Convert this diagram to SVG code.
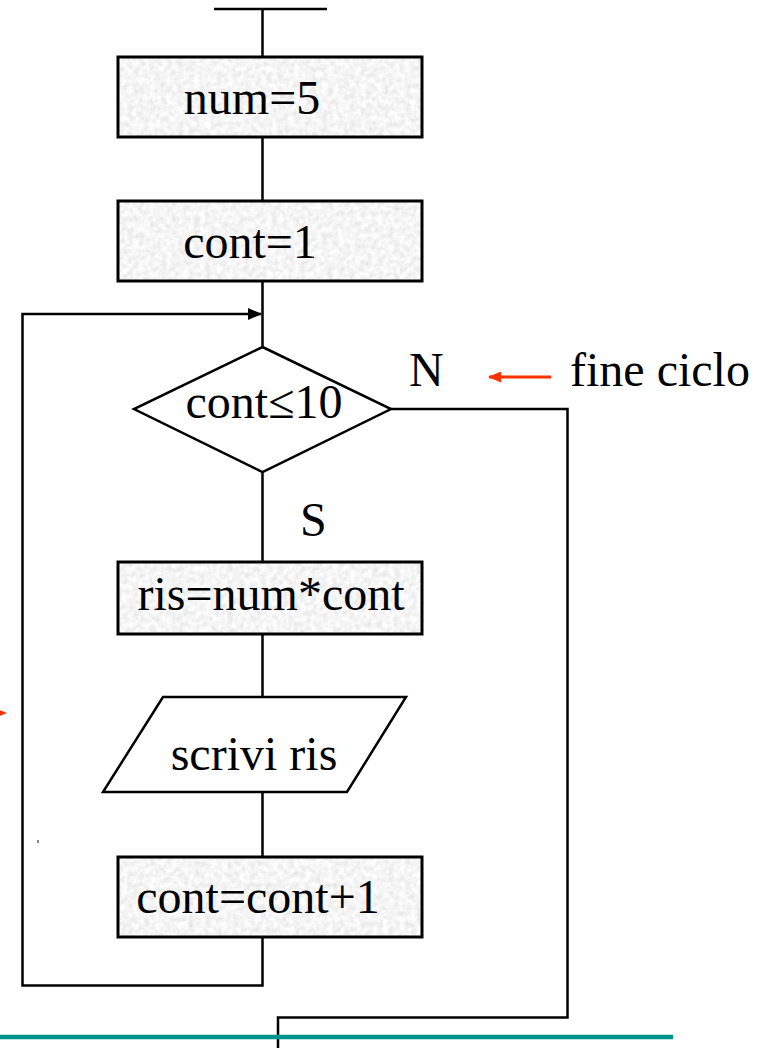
<svg xmlns="http://www.w3.org/2000/svg" width="760" height="1048" viewBox="0 0 760 1048">
<style>
.ln{fill:none;stroke:#000;stroke-width:2.5;stroke-linejoin:miter}
.box{fill:#e6e6e6;filter:url(#tex)}
.bd{fill:none;stroke:#000;stroke-width:3}
.sh{fill:#fff;stroke:#000;stroke-width:2.5}
.t{font-family:"Liberation Serif","Times New Roman",serif;font-size:48px;fill:#000}
</style>
<defs>
<filter id="tex" x="0" y="0" width="100%" height="100%">
<feTurbulence type="fractalNoise" baseFrequency="0.18" numOctaves="3" seed="4" result="n"/>
<feColorMatrix in="n" type="matrix" values="0.35 0 0 0 0.74  0.35 0 0 0 0.74  0.35 0 0 0 0.74  0 0 0 0 1" result="g"/>
<feComposite in="g" in2="SourceGraphic" operator="in"/>
</filter>
<marker id="ah" markerWidth="14" markerHeight="12" refX="13" refY="6" orient="auto" markerUnits="userSpaceOnUse" viewBox="0 0 14 12">
<path d="M0,0 L14,6 L0,12 z" fill="#000"/>
</marker>
<marker id="rh" markerWidth="13" markerHeight="11" refX="12" refY="5.5" orient="auto" markerUnits="userSpaceOnUse" viewBox="0 0 13 11">
<path d="M0,0 L13,5.5 L0,11 z" fill="#ff3300"/>
</marker>
</defs>
<g id="connectors">
<path class="ln" d="M214,9 H327 M262.5,9 V57"/>
<path class="ln" d="M262.5,137 V201"/>
<path class="ln" d="M262.5,281 V347"/>
<path class="ln" d="M262.5,472 V562"/>
<path class="ln" d="M262.5,634 V697"/>
<path class="ln" d="M262.5,792 V857"/>
<path class="ln" d="M262.5,937 V985.5 H22.5 V314 H261" marker-end="url(#ah)"/>
<path class="ln" d="M391,409 H567.5 V1017.5 H278 V1048"/>
<path d="M551,377 H489" stroke="#ff3300" stroke-width="3" fill="none" marker-end="url(#rh)"/>
<path d="M-6,708 L7,713 L-6,718 z" fill="#ff3300"/>
<rect x="37" y="840" width="2" height="3" fill="#888"/>
<path d="M0,1037 H673" stroke="#009490" stroke-width="4.5" fill="none"/>
</g>
<g id="n_num">
<rect class="box" x="118" y="57" width="304" height="80"/>
<rect class="bd" x="118" y="57" width="304" height="80"/>
<text class="t" x="252" y="114" text-anchor="middle">num=5</text>
</g>
<g id="n_cont">
<rect class="box" x="118" y="201" width="304" height="80"/>
<rect class="bd" x="118" y="201" width="304" height="80"/>
<text class="t" x="250" y="258" text-anchor="middle">cont=1</text>
</g>
<g id="n_cond">
<polygon class="sh" points="262.5,347 391,409 262.5,472 134,409"/>
<text class="t" x="264" y="418" text-anchor="middle">cont≤10</text>
</g>
<g id="labels">
<text class="t" x="409" y="386">N</text>
<text class="t" x="570" y="386">fine ciclo</text>
<text class="t" x="300" y="536">S</text>
</g>
<g id="n_ris">
<rect class="box" x="118" y="562" width="304" height="72"/>
<rect class="bd" x="118" y="562" width="304" height="72"/>
<text class="t" x="271" y="610" text-anchor="middle">ris=num*cont</text>
</g>
<g id="n_scrivi">
<polygon class="sh" points="163,697 406,697 347,792 103,792"/>
<text class="t" x="254" y="770" text-anchor="middle">scrivi ris</text>
</g>
<g id="n_inc">
<rect class="box" x="118" y="857" width="304" height="80"/>
<rect class="bd" x="118" y="857" width="304" height="80"/>
<text class="t" x="258" y="913" text-anchor="middle">cont=cont+1</text>
</g>
</svg>
